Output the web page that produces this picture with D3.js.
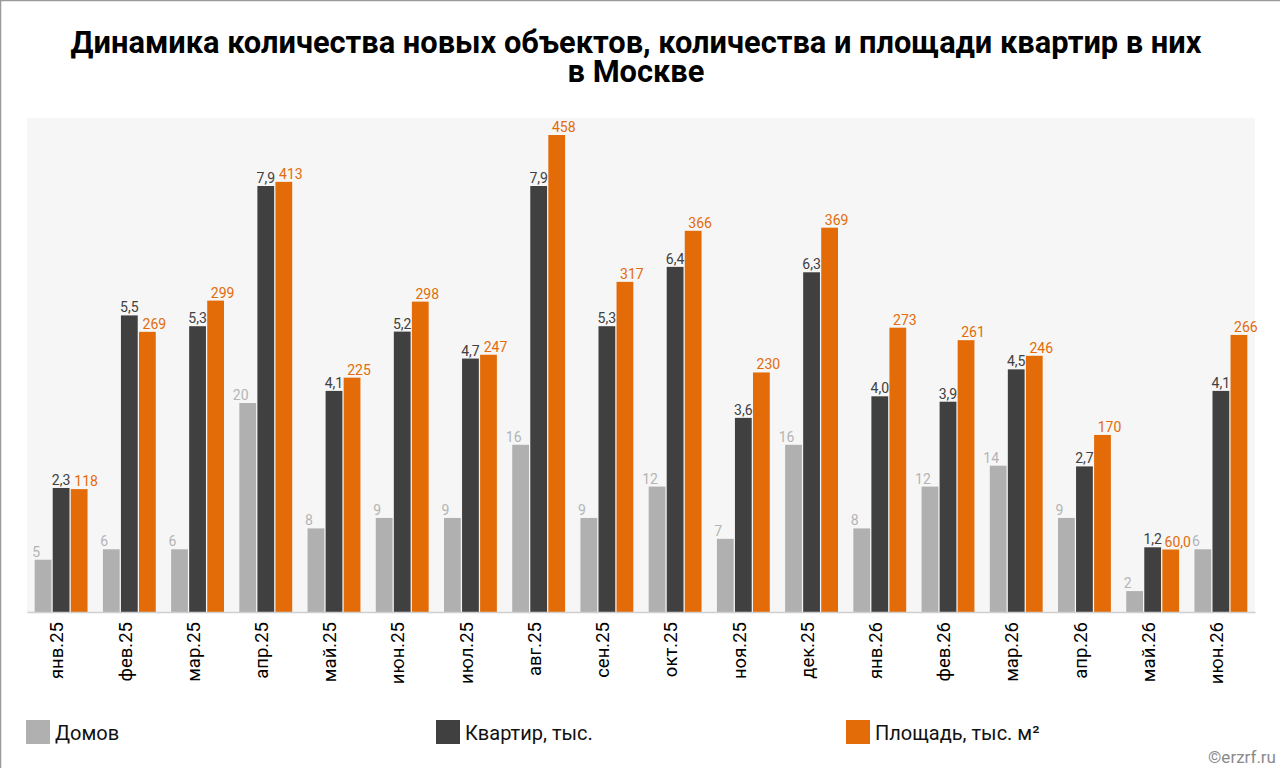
<!DOCTYPE html>
<html>
<head>
<meta charset="utf-8">
<script src="https://cdn.jsdelivr.net/npm/d3@7"></script>
<style>
  html, body { margin: 0; padding: 0; background: #ffffff; }
  svg { display: block; font-family: Roboto, "Noto Sans", Arial, sans-serif; }
</style>
</head>
<body>
<svg id="chart" width="1280" height="768"></svg>
<script>
const categories = ["янв.25","фев.25","мар.25","апр.25","май.25","июн.25","июл.25","авг.25","сен.25","окт.25","ноя.25","дек.25","янв.26","фев.26","мар.26","апр.26","май.26","июн.26"];
const homes = [5, 6, 6, 20, 8, 9, 9, 16, 9, 12, 7, 16, 8, 12, 14, 9, 2, 6];
const flats = [2.3, 5.5, 5.3, 7.9, 4.1, 5.2, 4.7, 7.9, 5.3, 6.4, 3.6, 6.3, 4.0, 3.9, 4.5, 2.7, 1.2, 4.1];
const area = [118, 269, 299, 413, 225, 298, 247, 458, 317, 366, 230, 369, 273, 261, 246, 170, 60.0, 266];
const seriesNames = ["Домов", "Квартир, тыс.", "Площадь, тыс. м²"];
const seriesColors = ["#b0b0b0", "#404040", "#e36c09"];
const labelColors = ["#b4b4b4", "#404040", "#e36c09"];
const title = ["Динамика количества новых объектов, количества и площади квартир в них", "в Москве"];

const svg = d3.select("#chart");
const W = 1280, H = 768;
const plot = { left: 27, right: 1255, top: 118, bottom: 612 };

// border
svg.append("line").attr("x1", 0).attr("x2", W).attr("y1", 0.5).attr("y2", 0.5).attr("stroke", "#9a9a9a").attr("stroke-width", 1.5);
svg.append("line").attr("x1", 0.5).attr("x2", 0.5).attr("y1", 0).attr("y2", H).attr("stroke", "#9a9a9a").attr("stroke-width", 1.5);

// title
const t = svg.append("text").attr("text-anchor", "middle").attr("font-weight", "bold").attr("font-size", 30.8).attr("fill", "#000");
title.forEach((line, i) => t.append("tspan").attr("x", 636).attr("y", 53 + i * 29).text(line));

// plot background
svg.append("rect").attr("x", plot.left).attr("y", plot.top).attr("width", plot.right - plot.left).attr("height", plot.bottom - plot.top).attr("fill", "#f6f6f6");

const x0 = d3.scaleBand().domain(categories).range([plot.left, plot.right]).paddingInner(0.225).paddingOuter(0.1125);
const x1 = d3.scaleBand().domain([0, 1, 2]).range([0, x0.bandwidth()]).paddingInner(0.07);
const yScales = [
  d3.scaleLinear().domain([0, 20]).range([plot.bottom, 403]),
  d3.scaleLinear().domain([0, 7.9]).range([plot.bottom, 186]),
  d3.scaleLinear().domain([0, 458]).range([plot.bottom, 135])
];
const seriesData = [homes, flats, area];
const labelShift = [-7, 0, 7];
const fmt = [d => String(d), d => d.toFixed(1).replace(".", ","), d => (d < 100 ? d.toFixed(1) : String(Math.round(d))).replace(".", ",")];

const groups = svg.append("g").selectAll("g").data(categories).join("g")
  .attr("transform", d => `translate(${x0(d)},0)`);

seriesData.forEach((vals, s) => {
  groups.append("rect")
    .attr("x", x1(s))
    .attr("width", x1.bandwidth())
    .attr("y", (d, i) => yScales[s](vals[i]))
    .attr("height", (d, i) => plot.bottom - yScales[s](vals[i]))
    .attr("fill", seriesColors[s]);
});
seriesData.forEach((vals, s) => {
  groups.append("text")
    .attr("x", x1(s) + x1.bandwidth() / 2 + labelShift[s])
    .attr("y", (d, i) => yScales[s](vals[i]) - 3)
    .attr("text-anchor", "middle")
    .attr("font-size", 14)
    .attr("fill", labelColors[s])
    .text((d, i) => fmt[s](vals[i]));
});

// axis
const xAxis = d3.axisBottom(x0).tickSize(0).tickPadding(0);
const ax = svg.append("g").attr("transform", `translate(0,${plot.bottom})`).call(xAxis);
ax.select(".domain").attr("stroke", "#cfcfcf").attr("stroke-width", 1.5);
ax.selectAll("text")
  .attr("font-size", 18.5)
  .attr("fill", "#000")
  .attr("font-family", "Roboto, Arial, sans-serif")
  .attr("text-anchor", "end")
  .attr("transform", "rotate(-90)")
  .attr("x", -10)
  .attr("y", 0)
  .attr("dy", "0.12em")
  .attr("dx", 0);

// legend
const legendX = [26, 436, 846];
seriesNames.forEach((name, i) => {
  svg.append("rect").attr("x", legendX[i]).attr("y", 720).attr("width", 24).attr("height", 24).attr("fill", seriesColors[i]);
  svg.append("text").attr("x", legendX[i] + 29).attr("y", 740).attr("font-size", 20).attr("fill", "#111").text(name);
});

svg.append("text").attr("x", 1276).attr("y", 763).attr("text-anchor", "end").attr("font-size", 17).attr("fill", "#8a8a8a").text("©erzrf.ru");
</script>
</body>
</html>
